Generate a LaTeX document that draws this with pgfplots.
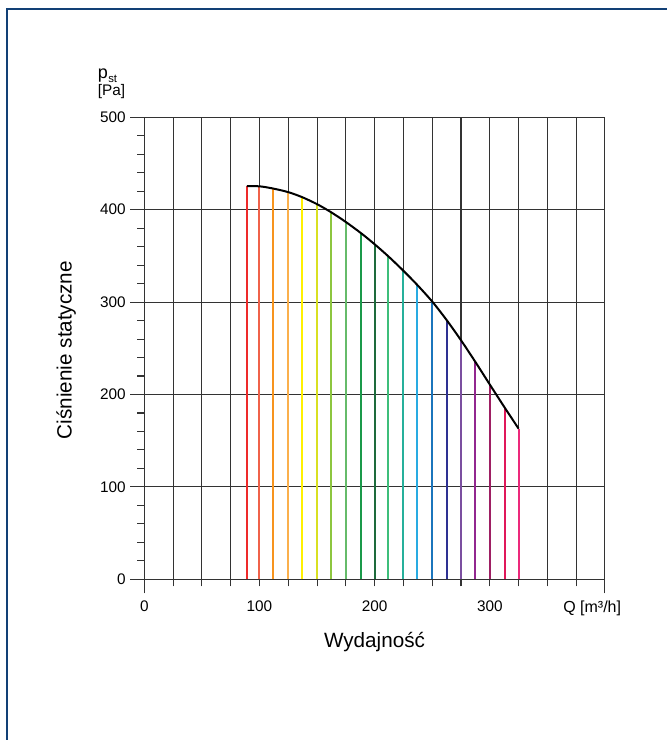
\documentclass[border=0pt]{standalone}
\usepackage{fontspec}
\setmainfont{Liberation Sans}
\usepackage{pgfplots}
\pgfplotsset{compat=1.18}

\definecolor{gridcol}{HTML}{333333}
\definecolor{framecol}{HTML}{124076}
\definecolor{c01}{HTML}{EE2A2A}
\definecolor{c02}{HTML}{F0624A}
\definecolor{c03}{HTML}{F7941E}
\definecolor{c04}{HTML}{FBB04C}
\definecolor{c05}{HTML}{FFF100}
\definecolor{c06}{HTML}{D9E021}
\definecolor{c07}{HTML}{8DC63F}
\definecolor{c08}{HTML}{66BB6A}
\definecolor{c09}{HTML}{1A9A4A}
\definecolor{c10}{HTML}{1E6B3C}
\definecolor{c11}{HTML}{3DBE7A}
\definecolor{c12}{HTML}{26B09B}
\definecolor{c13}{HTML}{29ABE2}
\definecolor{c14}{HTML}{1B75BC}
\definecolor{c15}{HTML}{2E3192}
\definecolor{c16}{HTML}{7B4FA0}
\definecolor{c17}{HTML}{92278F}
\definecolor{c18}{HTML}{9E1F63}
\definecolor{c19}{HTML}{E0185A}
\definecolor{c20}{HTML}{EC297B}

% fan curve: Q [m3/h], p_st [Pa]
\pgfplotstableread{
x     y
89    425.5
100   425.3
111.5 423.0
125   419.0
137   413.6
150   406.0
162   397.4
175   386.7
188.5 374.3
200   362.6
212   349.4
225   333.9
237   318.6
250   300.6
262.5 280.6
275   258.7
287.5 235.2
300   210.8
313   185.7
325   163.1
}\curvedata

\begin{document}
\begin{tikzpicture}[x=0.75pt,y=0.75pt]
  \useasboundingbox (0,0) rectangle (667,740);
  % outer frame (top and left only)
  \draw[framecol, line width=1.1pt] (7,0) -- (7,731) -- (667,731);

  \begin{axis}[
    at={(108.225pt,120.525pt)}, anchor=south west,
    scale only axis,
    width=345.5pt, height=346.5pt,
    xmin=0, xmax=400,
    ymin=0, ymax=500,
    xtick={0,400},
    xticklabels={0,{}},
    minor xtick={25,50,...,375},
    extra x ticks={100,200,300},
    extra x tick labels={100,200,300},
    extra x tick style={grid=none, tick style={draw=none}},
    ytick={0,100,...,500},
    minor y tick num=4,
    xmajorgrids=true, xminorgrids=true,
    ymajorgrids=true, yminorgrids=false,
    tick pos=left,
    tick align=outside,
    major tick length=10.5pt,
    minor tick length=5.25pt,
    every tick/.style={draw=gridcol, line width=0.8pt},
    major grid style={draw=gridcol, line width=0.8pt},
    minor grid style={draw=gridcol, line width=0.8pt},
    axis line style={draw=gridcol, line width=0.8pt},
    tick label style={font=\fontsize{11.5}{13}\selectfont},
    xticklabel style={yshift=-2pt},
    /pgf/number format/assume math mode=true,
  ]
    \addplot[c01, line width=1.5pt] coordinates {(89,0) (89,425.5)};
    \addplot[c02, line width=1.5pt] coordinates {(100,0) (100,425.3)};
    \addplot[c03, line width=1.5pt] coordinates {(111.5,0) (111.5,423.0)};
    \addplot[c04, line width=1.5pt] coordinates {(125,0) (125,419.0)};
    \addplot[c05, line width=1.5pt] coordinates {(137,0) (137,413.6)};
    \addplot[c06, line width=1.5pt] coordinates {(150,0) (150,406.0)};
    \addplot[c07, line width=1.5pt] coordinates {(162,0) (162,397.4)};
    \addplot[c08, line width=1.5pt] coordinates {(175,0) (175,386.7)};
    \addplot[c09, line width=1.5pt] coordinates {(188.5,0) (188.5,374.3)};
    \addplot[c10, line width=1.5pt] coordinates {(200,0) (200,362.6)};
    \addplot[c11, line width=1.5pt] coordinates {(212,0) (212,349.4)};
    \addplot[c12, line width=1.5pt] coordinates {(225,0) (225,333.9)};
    \addplot[c13, line width=1.5pt] coordinates {(237,0) (237,318.6)};
    \addplot[c14, line width=1.5pt] coordinates {(250,0) (250,300.6)};
    \addplot[c15, line width=1.5pt] coordinates {(262.5,0) (262.5,280.6)};
    \addplot[c16, line width=1.5pt] coordinates {(275,0) (275,258.7)};
    \addplot[c17, line width=1.5pt] coordinates {(287.5,0) (287.5,235.2)};
    \addplot[c18, line width=1.5pt] coordinates {(300,0) (300,210.8)};
    \addplot[c19, line width=1.5pt] coordinates {(313,0) (313,185.7)};
    \addplot[c20, line width=1.5pt] coordinates {(325,0) (325,163.1)};

    \addplot[black, line width=1.5pt, smooth] table[x=x, y=y] {\curvedata};
  \end{axis}

  % labels
  \node[inner sep=0pt, anchor=base west, font=\fontsize{13.5}{16}\selectfont] at (97.5,661.4) {p};
  \node[inner sep=0pt, anchor=base west, font=\fontsize{8.5}{10}\selectfont] at (108,657.7) {st};
  \node[inner sep=0pt, anchor=base west, font=\fontsize{11.5}{13}\selectfont] at (97.7,644.2) {[Pa]};
  \node[inner sep=0pt, anchor=base, rotate=90, font=\fontsize{15.5}{18}\selectfont] at (71.7,390) {Ciśnienie statyczne};
  \node[inner sep=0pt, anchor=base, font=\fontsize{15.5}{18}\selectfont] at (374.5,92.7) {Wydajność};
  \node[inner sep=0pt, anchor=base west, font=\fontsize{12}{14}\selectfont] at (563,127) {Q [m³/h]};
\end{tikzpicture}
\end{document}
